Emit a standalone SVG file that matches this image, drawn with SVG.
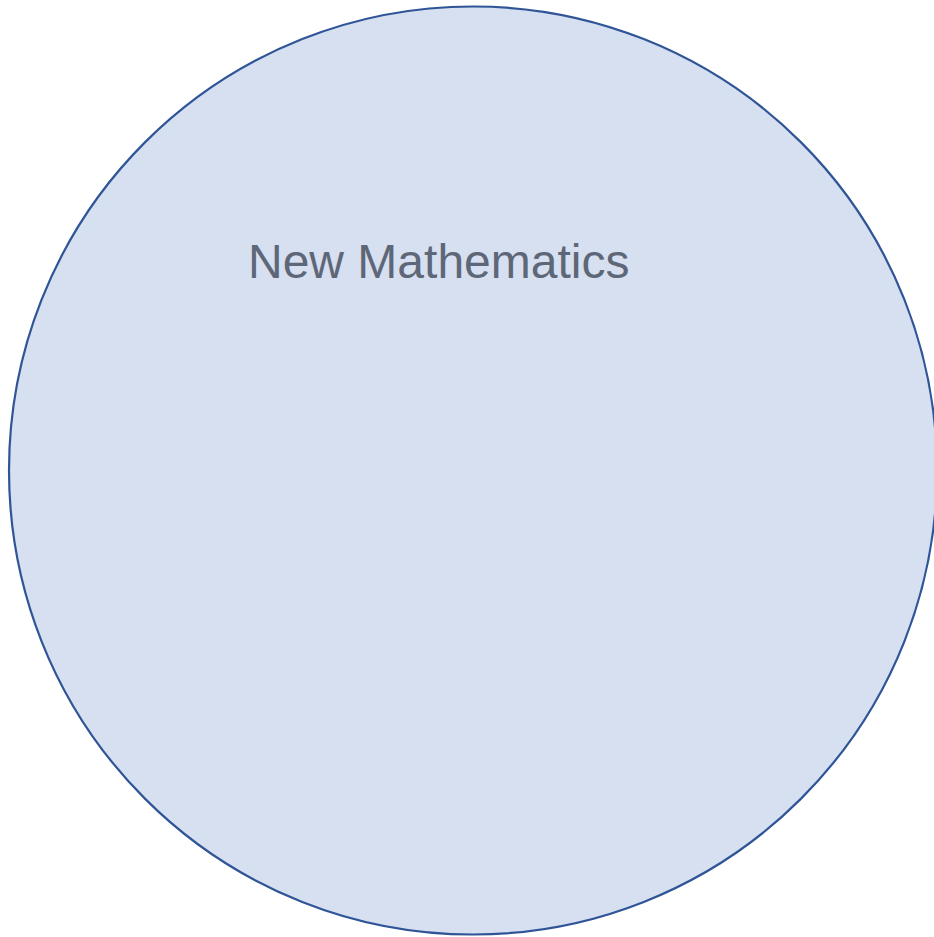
<svg xmlns="http://www.w3.org/2000/svg" width="934" height="937" viewBox="0 0 934 937">
<style>
.node-shape{fill:#d6e0f1;stroke:#2f5597;stroke-width:2.2}
.label{font-family:"Liberation Sans",Arial,sans-serif;font-size:48px;fill:#5e6778}
</style>
<rect width="934" height="937" fill="#ffffff"/>
<g id="connectors"></g>
<g id="new-mathematics">
<circle class="node-shape" cx="473" cy="470.5" r="464"/>
<text class="label" x="248" y="277.5">New Mathematics</text>
</g>
</svg>
